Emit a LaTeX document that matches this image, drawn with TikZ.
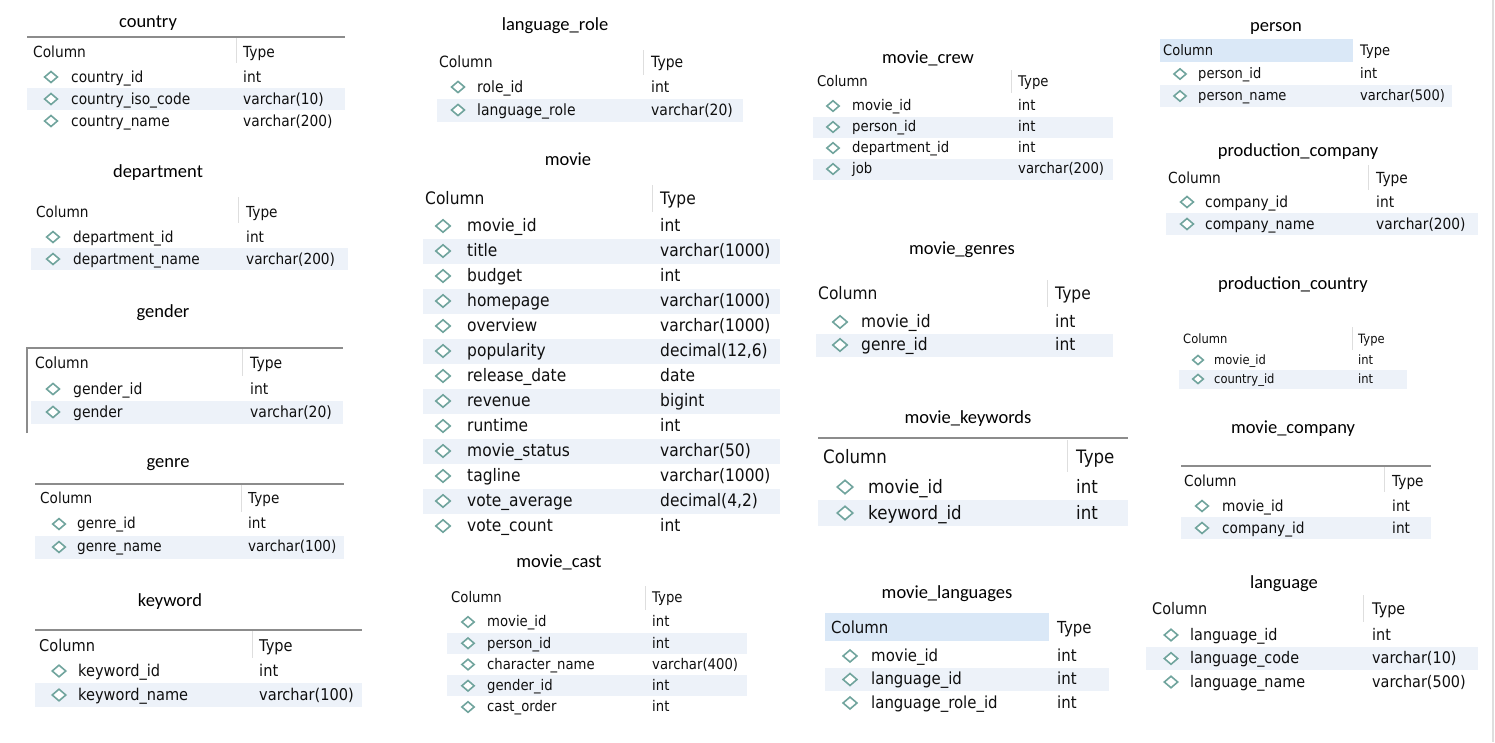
\documentclass[tikz,border=0pt]{standalone}
\usepackage{fontspec}
\usepackage{tikz}
\usetikzlibrary{shapes.geometric}

\newfontfamily\titlefont{Carlito}
\newfontfamily\tabfont[FakeStretch=0.9]{DejaVu Sans}

\definecolor{rowshade}{RGB}{237,242,249}
\definecolor{headshade}{RGB}{218,232,247}
\definecolor{keyteal}{RGB}{112,164,157}
\definecolor{rulegray}{RGB}{140,140,140}
\definecolor{sepgray}{RGB}{222,222,222}
\definecolor{celltext}{RGB}{15,15,15}

\tikzset{
  tabtitle/.style={anchor=base, inner sep=0pt, font=\titlefont\fontsize{18.5}{18.5}\selectfont},
  cell/.style={anchor=base west, inner sep=0pt, text=celltext, font=\tabfont\fontsize{\fs}{\fs}\selectfont},
  keymark/.style={diamond, draw=keyteal, fill=white, line width=1.6pt, inner sep=0pt,
    minimum width=0.88pt*\fs, minimum height=0.76pt*\fs},
  topline/.style={draw=rulegray, line width=1.5pt},
  sepline/.style={draw=sepgray, line width=1pt},
  edgeline/.style={draw=sepgray, line width=1.5pt}
}

% rows of one table: name, left x, right x, first row y, row step, key x, field x, type x, fields
\newcommand{\fieldrows}[9]{%
  \foreach \fname/\ftype [count=\i] in {#9} {
    \pgfmathsetmacro{\ry}{#4+(\i-1)*#5}
    \ifodd\i\else\fill[rowshade] (#2,\ry-#5/2) rectangle (#3,\ry+#5/2);\fi
    \node[keymark] (#1-k\i) at (#6,\ry) {};
    \node[cell] (#1-f\i) at (#7,\ry+0.33*\fs) {\fname};
    \node[cell] (#1-t\i) at (#8,\ry+0.33*\fs) {\ftype};
  }}

\begin{document}
\begin{tikzpicture}[x=1pt, y=-1pt]
        \useasboundingbox (0,0) rectangle (1495,742);
        \draw[edgeline] (1493,0) -- (1493,742);

        % country
        \def\fs{15.3}
        \node[tabtitle] (country) at (148,27.5) {country};
        \draw[topline] (27,37) -- (345,37);
        \draw[sepline] (236,38) -- (236,63);
        \node[cell] (country-col) at (33,52+0.33*\fs) {Column};
        \node[cell] (country-type) at (243,52+0.33*\fs) {Type};
        \fieldrows{country}{27}{345}{77}{22}{51}{71}{243}{country\_id/int, country\_iso\_code/varchar(10), country\_name/varchar(200)}

        % department
        \def\fs{15.2}
        \node[tabtitle] (department) at (158,177.5) {department};
        \draw[sepline] (238,197) -- (238,223);
        \node[cell] (department-col) at (36,212+0.33*\fs) {Column};
        \node[cell] (department-type) at (246,212+0.33*\fs) {Type};
        \fieldrows{department}{31}{348}{237}{22}{53}{73}{246}{department\_id/int, department\_name/varchar(200)}

        % gender
        \def\fs{15.5}
        \node[tabtitle] (gender) at (163,317.5) {gender};
        \draw[topline] (27,433) -- (27,348) -- (343,348);
        \draw[sepline] (242,349) -- (242,376);
        \node[cell] (gender-col) at (35,363+0.33*\fs) {Column};
        \node[cell] (gender-type) at (250,363+0.33*\fs) {Type};
        \fieldrows{gender}{31}{343}{389}{23}{53}{73}{250}{gender\_id/int, gender/varchar(20)}

        % genre
        \def\fs{15.1}
        \node[tabtitle] (genre) at (168,467.5) {genre};
        \draw[topline] (35,484) -- (344,484);
        \draw[sepline] (241,485) -- (241,512);
        \node[cell] (genre-col) at (40,499+0.33*\fs) {Column};
        \node[cell] (genre-type) at (248,499+0.33*\fs) {Type};
        \fieldrows{genre}{35}{344}{524}{23}{59}{77}{248}{genre\_id/int, genre\_name/varchar(100)}

        % keyword
        \def\fs{16.2}
        \node[tabtitle] (keyword) at (170,606.5) {keyword};
        \draw[topline] (35,630) -- (362,630);
        \draw[sepline] (252,631) -- (252,658);
        \node[cell] (keyword-col) at (39,646+0.33*\fs) {Column};
        \node[cell] (keyword-type) at (259,646+0.33*\fs) {Type};
        \fieldrows{keyword}{35}{362}{671}{24}{59}{78}{259}{keyword\_id/int, keyword\_name/varchar(100)}

        % language_role
        \def\fs{15.5}
        \node[tabtitle] (langrole) at (555,30.5) {language\_role};
        \draw[sepline] (643,50) -- (643,75);
        \node[cell] (langrole-col) at (439,62+0.33*\fs) {Column};
        \node[cell] (langrole-type) at (651,62+0.33*\fs) {Type};
        \fieldrows{langrole}{437}{743}{87}{23}{458}{477}{651}{role\_id/int, language\_role/varchar(20)}

        % movie
        \def\fs{17.2}
        \node[tabtitle] (movie) at (568,165.5) {movie};
        \draw[sepline] (652,185) -- (652,212);
        \node[cell] (movie-col) at (425,199+0.33*\fs) {Column};
        \node[cell] (movie-type) at (660,199+0.33*\fs) {Type};
        \fieldrows{movie}{423}{780}{226}{25}{443}{467}{660}{movie\_id/int, title/varchar(1000), budget/int,
          homepage/varchar(1000), overview/varchar(1000), popularity/{decimal(12,6)}, release\_date/date,
          revenue/bigint, runtime/int, movie\_status/varchar(50), tagline/varchar(1000),
          vote\_average/{decimal(4,2)}, vote\_count/int}

        % movie_cast
        \def\fs{14.7}
        \node[tabtitle] (cast) at (559,567.5) {movie\_cast};
        \draw[sepline] (645,586) -- (645,610);
        \node[cell] (cast-col) at (451,598+0.33*\fs) {Column};
        \node[cell] (cast-type) at (652,598+0.33*\fs) {Type};
        \fieldrows{cast}{447}{747}{622}{21.25}{468}{487}{652}{movie\_id/int, person\_id/int,
          character\_name/varchar(400), gender\_id/int, cast\_order/int}

        % movie_crew
        \def\fs{14.7}
        \node[tabtitle] (crew) at (928,63.5) {movie\_crew};
        \draw[sepline] (1011,70) -- (1011,93);
        \node[cell] (crew-col) at (817,82+0.33*\fs) {Column};
        \node[cell] (crew-type) at (1018,82+0.33*\fs) {Type};
        \fieldrows{crew}{813}{1113}{106}{21}{833}{852}{1018}{movie\_id/int, person\_id/int,
          department\_id/int, job/varchar(200)}

        % movie_genres
        \def\fs{17.2}
        \node[tabtitle] (mgenres) at (962,254.5) {movie\_genres};
        \draw[sepline] (1047,280) -- (1047,307);
        \node[cell] (mgenres-col) at (818,294+0.33*\fs) {Column};
        \node[cell] (mgenres-type) at (1055,294+0.33*\fs) {Type};
        \fieldrows{mgenres}{816}{1113}{322}{23}{840}{861}{1055}{movie\_id/int, genre\_id/int}

        % movie_keywords
        \def\fs{18.5}
        \node[tabtitle] (mkeywords) at (968,423.5) {movie\_keywords};
        \draw[topline] (818,438) -- (1128,438);
        \draw[sepline] (1067,440) -- (1067,472);
        \node[cell] (mkeywords-col) at (823,457+0.33*\fs) {Column};
        \node[cell] (mkeywords-type) at (1076,457+0.33*\fs) {Type};
        \fieldrows{mkeywords}{818}{1128}{487}{26}{845}{868}{1076}{movie\_id/int, keyword\_id/int}

        % movie_languages
        \def\fs{16.6}
        \node[tabtitle] (mlanguages) at (947,598.5) {movie\_languages};
        \fill[headshade] (825,613) rectangle (1049,641);
        \node[cell] (mlanguages-col) at (831,628+0.33*\fs) {Column};
        \node[cell] (mlanguages-type) at (1057,628+0.33*\fs) {Type};
        \fieldrows{mlanguages}{825}{1109}{656}{23.5}{850}{871}{1057}{movie\_id/int, language\_id/int,
          language\_role\_id/int}

        % person
        \def\fs{14.5}
        \node[tabtitle] (person) at (1276,31.5) {person};
        \fill[headshade] (1160,39) rectangle (1353,62);
        \node[cell] (person-col) at (1163,51+0.33*\fs) {Column};
        \node[cell] (person-type) at (1360,51+0.33*\fs) {Type};
        \fieldrows{person}{1160}{1452}{74}{22}{1180}{1198}{1360}{person\_id/int, person\_name/varchar(500)}

        % production_company
        \def\fs{15.3}
        \node[tabtitle] (pcompany) at (1298,156.5) {production\_company};
        \draw[sepline] (1368,165) -- (1368,190);
        \node[cell] (pcompany-col) at (1168,178+0.33*\fs) {Column};
        \node[cell] (pcompany-type) at (1376,178+0.33*\fs) {Type};
        \fieldrows{pcompany}{1166}{1478}{202}{22}{1187}{1205}{1376}{company\_id/int, company\_name/varchar(200)}

        % production_country
        \def\fs{12.8}
        \node[tabtitle] (pcountry) at (1293,289.5) {production\_country};
        \draw[sepline] (1352,327) -- (1352,350);
        \node[cell] (pcountry-col) at (1183,339+0.33*\fs) {Column};
        \node[cell] (pcountry-type) at (1358,339+0.33*\fs) {Type};
        \fieldrows{pcountry}{1179}{1407}{360}{19}{1198}{1214}{1358}{movie\_id/int, country\_id/int}

        % movie_company
        \def\fs{15.2}
        \node[tabtitle] (mcompany) at (1293,433.5) {movie\_company};
        \draw[topline] (1181,466) -- (1431,466);
        \draw[sepline] (1384,467) -- (1384,492);
        \node[cell] (mcompany-col) at (1184,481+0.33*\fs) {Column};
        \node[cell] (mcompany-type) at (1392,481+0.33*\fs) {Type};
        \fieldrows{mcompany}{1181}{1431}{506}{22}{1202}{1222}{1392}{movie\_id/int, company\_id/int}

        % language
        \def\fs{16.0}
        \node[tabtitle] (language) at (1284,588.5) {language};
        \draw[sepline] (1363,595) -- (1363,622);
        \node[cell] (language-col) at (1152,609+0.33*\fs) {Column};
        \node[cell] (language-type) at (1372,609+0.33*\fs) {Type};
        \fieldrows{language}{1146}{1478}{635}{23.5}{1171}{1190}{1372}{language\_id/int,
          language\_code/varchar(10), language\_name/varchar(500)}
\end{tikzpicture}
\end{document}
